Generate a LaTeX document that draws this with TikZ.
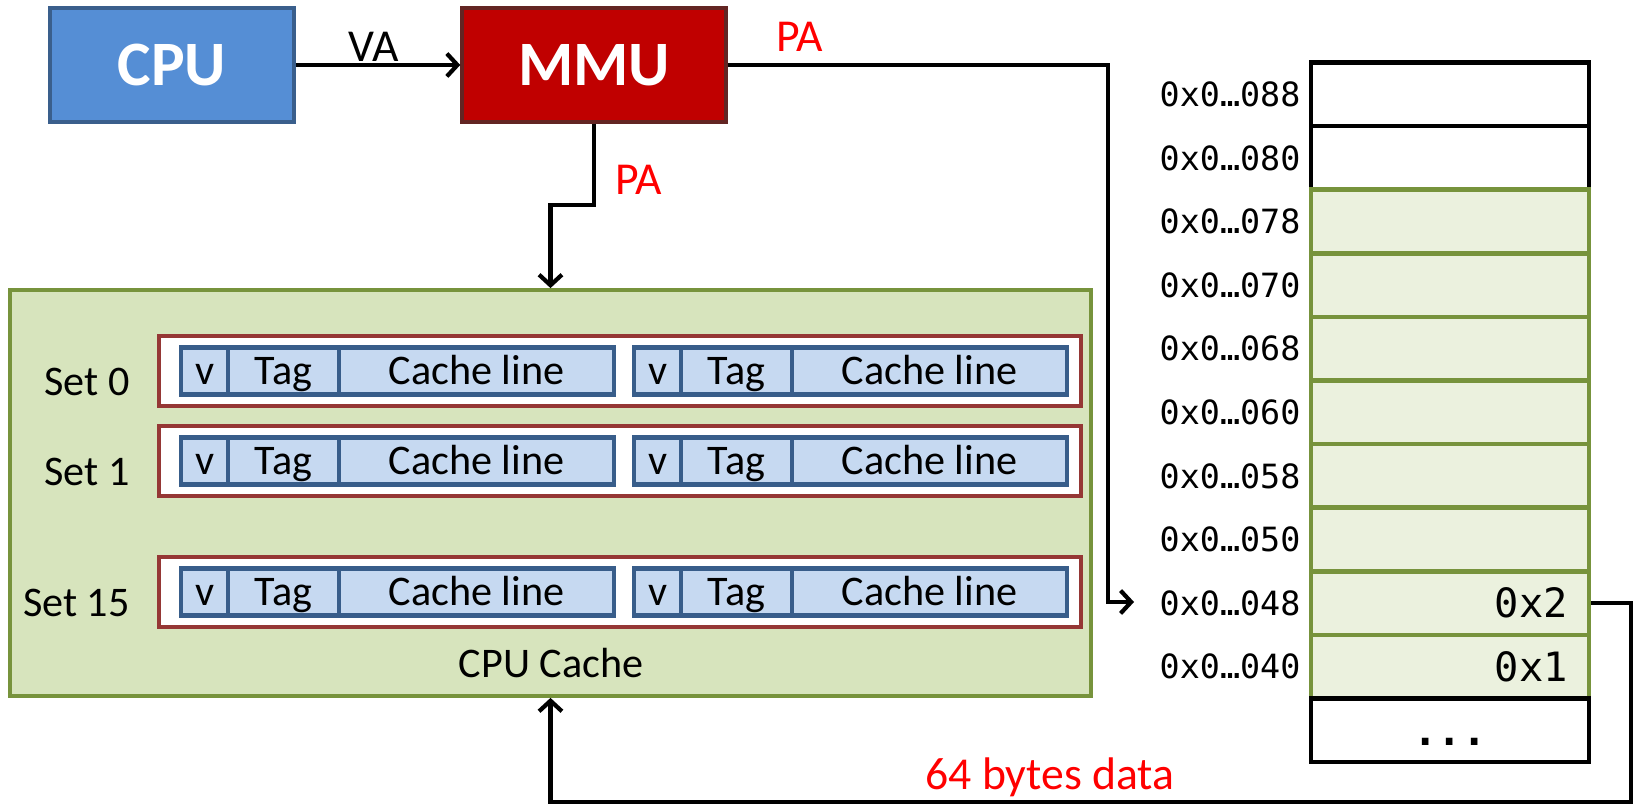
\documentclass[tikz,border=0pt]{standalone}
\usepackage{fontspec}
\setmainfont{Carlito}
\newfontfamily\addrfont{DejaVu Sans Mono}
\usetikzlibrary{positioning,arrows.meta}

\definecolor{cpufill}{HTML}{558ED5}
\definecolor{cpuline}{HTML}{3A5F8C}
\definecolor{mmufill}{HTML}{C00000}
\definecolor{mmuline}{HTML}{632523}
\definecolor{cachefill}{HTML}{D7E4BD}
\definecolor{greenline}{HTML}{77933C}
\definecolor{setline}{HTML}{953735}
\definecolor{wayfill}{HTML}{C6D9F1}
\definecolor{wayline}{HTML}{385D8A}
\definecolor{memfill}{HTML}{EBF1DE}
\definecolor{pared}{HTML}{FF0000}

\begin{document}
\begin{tikzpicture}[x=0.02cm, y=-0.02cm,
  conn/.style={line width=2.4pt, -{Straight Barb[length=6pt,width=13pt]}},
  unit/.style={draw, rectangle, line width=2pt, minimum height=2.28cm,
               text=white, font=\fontsize{36}{40}\selectfont\bfseries},
  txt/.style={inner sep=0pt, font=\fontsize{24}{28}\selectfont},
  redtxt/.style={inner sep=0pt, text=pared, font=\fontsize{26}{30}\selectfont},
  setbox/.style={draw=setline, fill=white, rectangle, line width=2.6pt,
                 minimum width=18.44cm, minimum height=1.4cm},
  field/.style={draw=wayline, fill=wayfill, rectangle, line width=2.4pt,
                minimum height=0.94cm, inner sep=0pt, text height=15.5pt, text depth=0pt,
                font=\fontsize{24}{28}\selectfont},
  blank/.style={draw=black, fill=white, rectangle, line width=2.6pt,
                minimum width=5.56cm, minimum height=1.272cm, inner sep=0pt,
                text height=16.8pt, text depth=0pt, font=\addrfont\fontsize{23}{26}\selectfont\bfseries},
  held/.style={draw=greenline, fill=memfill, rectangle, line width=2.6pt,
               minimum width=5.56cm, minimum height=1.272cm},
  addr/.style={inner sep=0pt, font=\addrfont\fontsize{19}{22}\selectfont},
  val/.style={inner sep=0pt, font=\addrfont\fontsize{23}{26}\selectfont}]
  \useasboundingbox (0,0) rectangle (1634,807);

  \node (cpu) [unit, fill=cpufill, draw=cpuline, minimum width=4.88cm] at (172,65) {CPU};
  \node (mmu) [unit, fill=mmufill, draw=mmuline, minimum width=5.28cm] at (594,65) {MMU};
  \node (va) [txt, font=\fontsize{26}{30}\selectfont] at (374,47) {VA};
  \node (patop) [redtxt] at (800,37) {PA};
  \node (pamid) [redtxt] at (639,180) {PA};

  \node (cache) [draw=greenline, fill=cachefill, rectangle, line width=2.2pt,
                 minimum width=21.62cm, minimum height=8.12cm] at (550.5,493) {};
  \node (cachename) [txt, anchor=base] at (551,677) {CPU Cache};

  \foreach \s/\y in {0/371, 1/461, 15/592} {
    \node (set\s) [setbox] at (620,\y) {};
    \node (setname\s) [txt, anchor=base east] at (130,\y+25) {Set \s};
    \foreach \w/\x in {a/179, b/632} {
      \node (v\s\w) [field, minimum width=0.94cm, anchor=west] at (\x,\y) {v};
      \node (tag\s\w) [field, minimum width=2.22cm, right=-2.4pt of v\s\w] {Tag};
      \node (line\s\w) [field, minimum width=5.5cm, right=-2.4pt of tag\s\w] {Cache line};
    }
  }

  % memory
  \foreach \i/\a in {0/088, 1/080} {
    \node (mem\i) [blank] at (1450,{94.3+63.6*\i}) {};
    \node (addr\i) [addr, left=0.16cm of mem\i] {0x0…\a};
  }
  \foreach \i/\a in {2/078, 3/070, 4/068, 5/060, 6/058, 7/050, 8/048, 9/040} {
    \node (mem\i) [held] at (1450,{94.3+63.6*\i}) {};
    \node (addr\i) [addr, left=0.16cm of mem\i] {0x0…\a};
  }
  \node (mem10) [blank] at (1450,730.3) {...};
  \node (val8) [val, left=0.46cm of mem8.east] {0x2};
  \node (val9) [val, left=0.46cm of mem9.east] {0x1};

  \coordinate (memin) at (1134,602);
  \coordinate (back) at (1631,802);
  \node (bytes) [redtxt, anchor=base] at (1050,789) {64 bytes data};

  \draw[conn] (cpu) -- (mmu);
  \draw[conn] (mmu.east) -| ([xshift=-0.52cm]memin) -- (memin);
  \draw[conn] (mmu.south) -- ++(0,81) -| (cache.north);
  \draw[conn] (mem8.east) -| (back) -| (cache.south);
\end{tikzpicture}
\end{document}
